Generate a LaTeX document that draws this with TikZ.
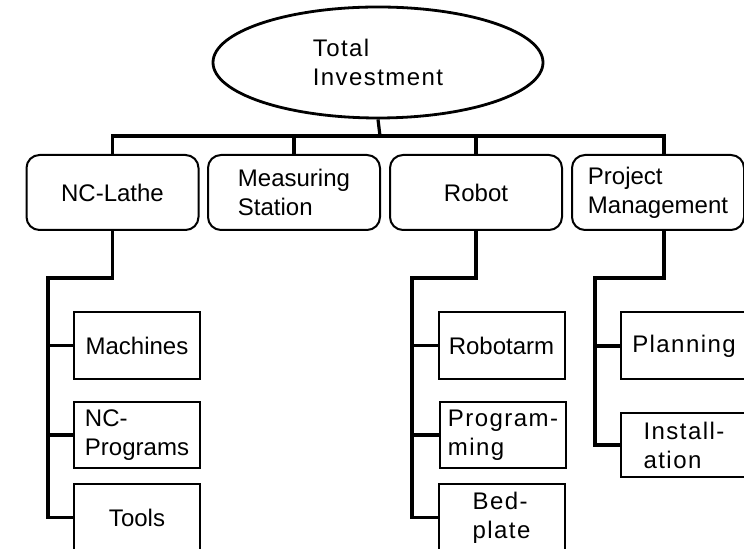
\documentclass[tikz,border=0pt]{standalone}
\usepackage{fontspec}
\setmainfont{Liberation Sans}
\usetikzlibrary{shapes.geometric}
\tikzset{
  totalnode/.style={draw, ellipse, line width=1.4pt, minimum width=165pt, minimum height=55.5pt, inner sep=0pt, align=left},
  mainbox/.style={draw, line width=1pt, rounded corners=6.5pt, minimum width=86pt, minimum height=37.5pt, inner sep=0pt, align=left},
  subbox/.style={draw, line width=1pt, minimum width=63pt, minimum height=33.5pt, inner sep=0pt, align=left},
  spaced/.style={font=\fontsize{12}{14.5}\selectfont\addfontfeature{LetterSpace=6}},
  link/.style={line width=1.6pt}
}

\begin{document}
\begin{tikzpicture}[x=0.5pt, y=-0.5pt, font=\fontsize{12}{14.5}\selectfont]

\clip (0,0) rectangle (744,549);

\node[totalnode, spaced] (total) at (378,62.5) {Total\\Investment};

\node[mainbox] (lathe) at (112.5,192.5) {NC-Lathe};
\node[mainbox] (measure) at (294,192.5) {Measuring\\Station};
\node[mainbox] (robot) at (476,192.5) {Robot};
\node[mainbox] (project) at (658,192.5) {Project\\Management};

\node[subbox] (machines) at (137,345.5) {Machines};
\node[subbox, minimum height=33pt] (ncprog) at (137,435) {NC-\\Programs};
\node[subbox] (tools) at (137,517.5) {Tools};

\node[subbox] (robotarm) at (501.5,345.5) {Robotarm};
\node[subbox, spaced, minimum height=33pt] (program) at (503,435) {Program-\\ming};
\node[subbox, spaced] (bedplate) at (501.5,517.5) {Bed-\\plate};

\node[subbox, spaced] (planning) at (684,346) {Planning};
\node[subbox, spaced, minimum height=32pt] (install) at (684,445) {Install-\\ation};

\coordinate (bus) at (380,136);
\draw[link] (total.south) -- (bus);
\draw[link] (lathe.north) |- (bus) -| ([xshift=3pt]project.north);
\draw[link] (measure.north) -- (measure.north |- bus);
\draw[link] (robot.north) -- (robot.north |- bus);

\coordinate (lathebend) at (48,278);
\draw[link] (lathe.south) |- (lathebend) |- (tools.west);
\draw[link] (machines.west) -- (machines.west -| lathebend);
\draw[link] (ncprog.west) -- (ncprog.west -| lathebend);

\coordinate (robotbend) at (412,278);
\draw[link] (robot.south) |- (robotbend) |- (bedplate.west);
\draw[link] (robotarm.west) -- (robotarm.west -| robotbend);
\draw[link] (program.west) -- (program.west -| robotbend);

\coordinate (projectbend) at (595,278);
\draw[link] ([xshift=3pt]project.south) |- (projectbend) |- (install.west);
\draw[link] (planning.west) -- (planning.west -| projectbend);

\end{tikzpicture}
\end{document}
